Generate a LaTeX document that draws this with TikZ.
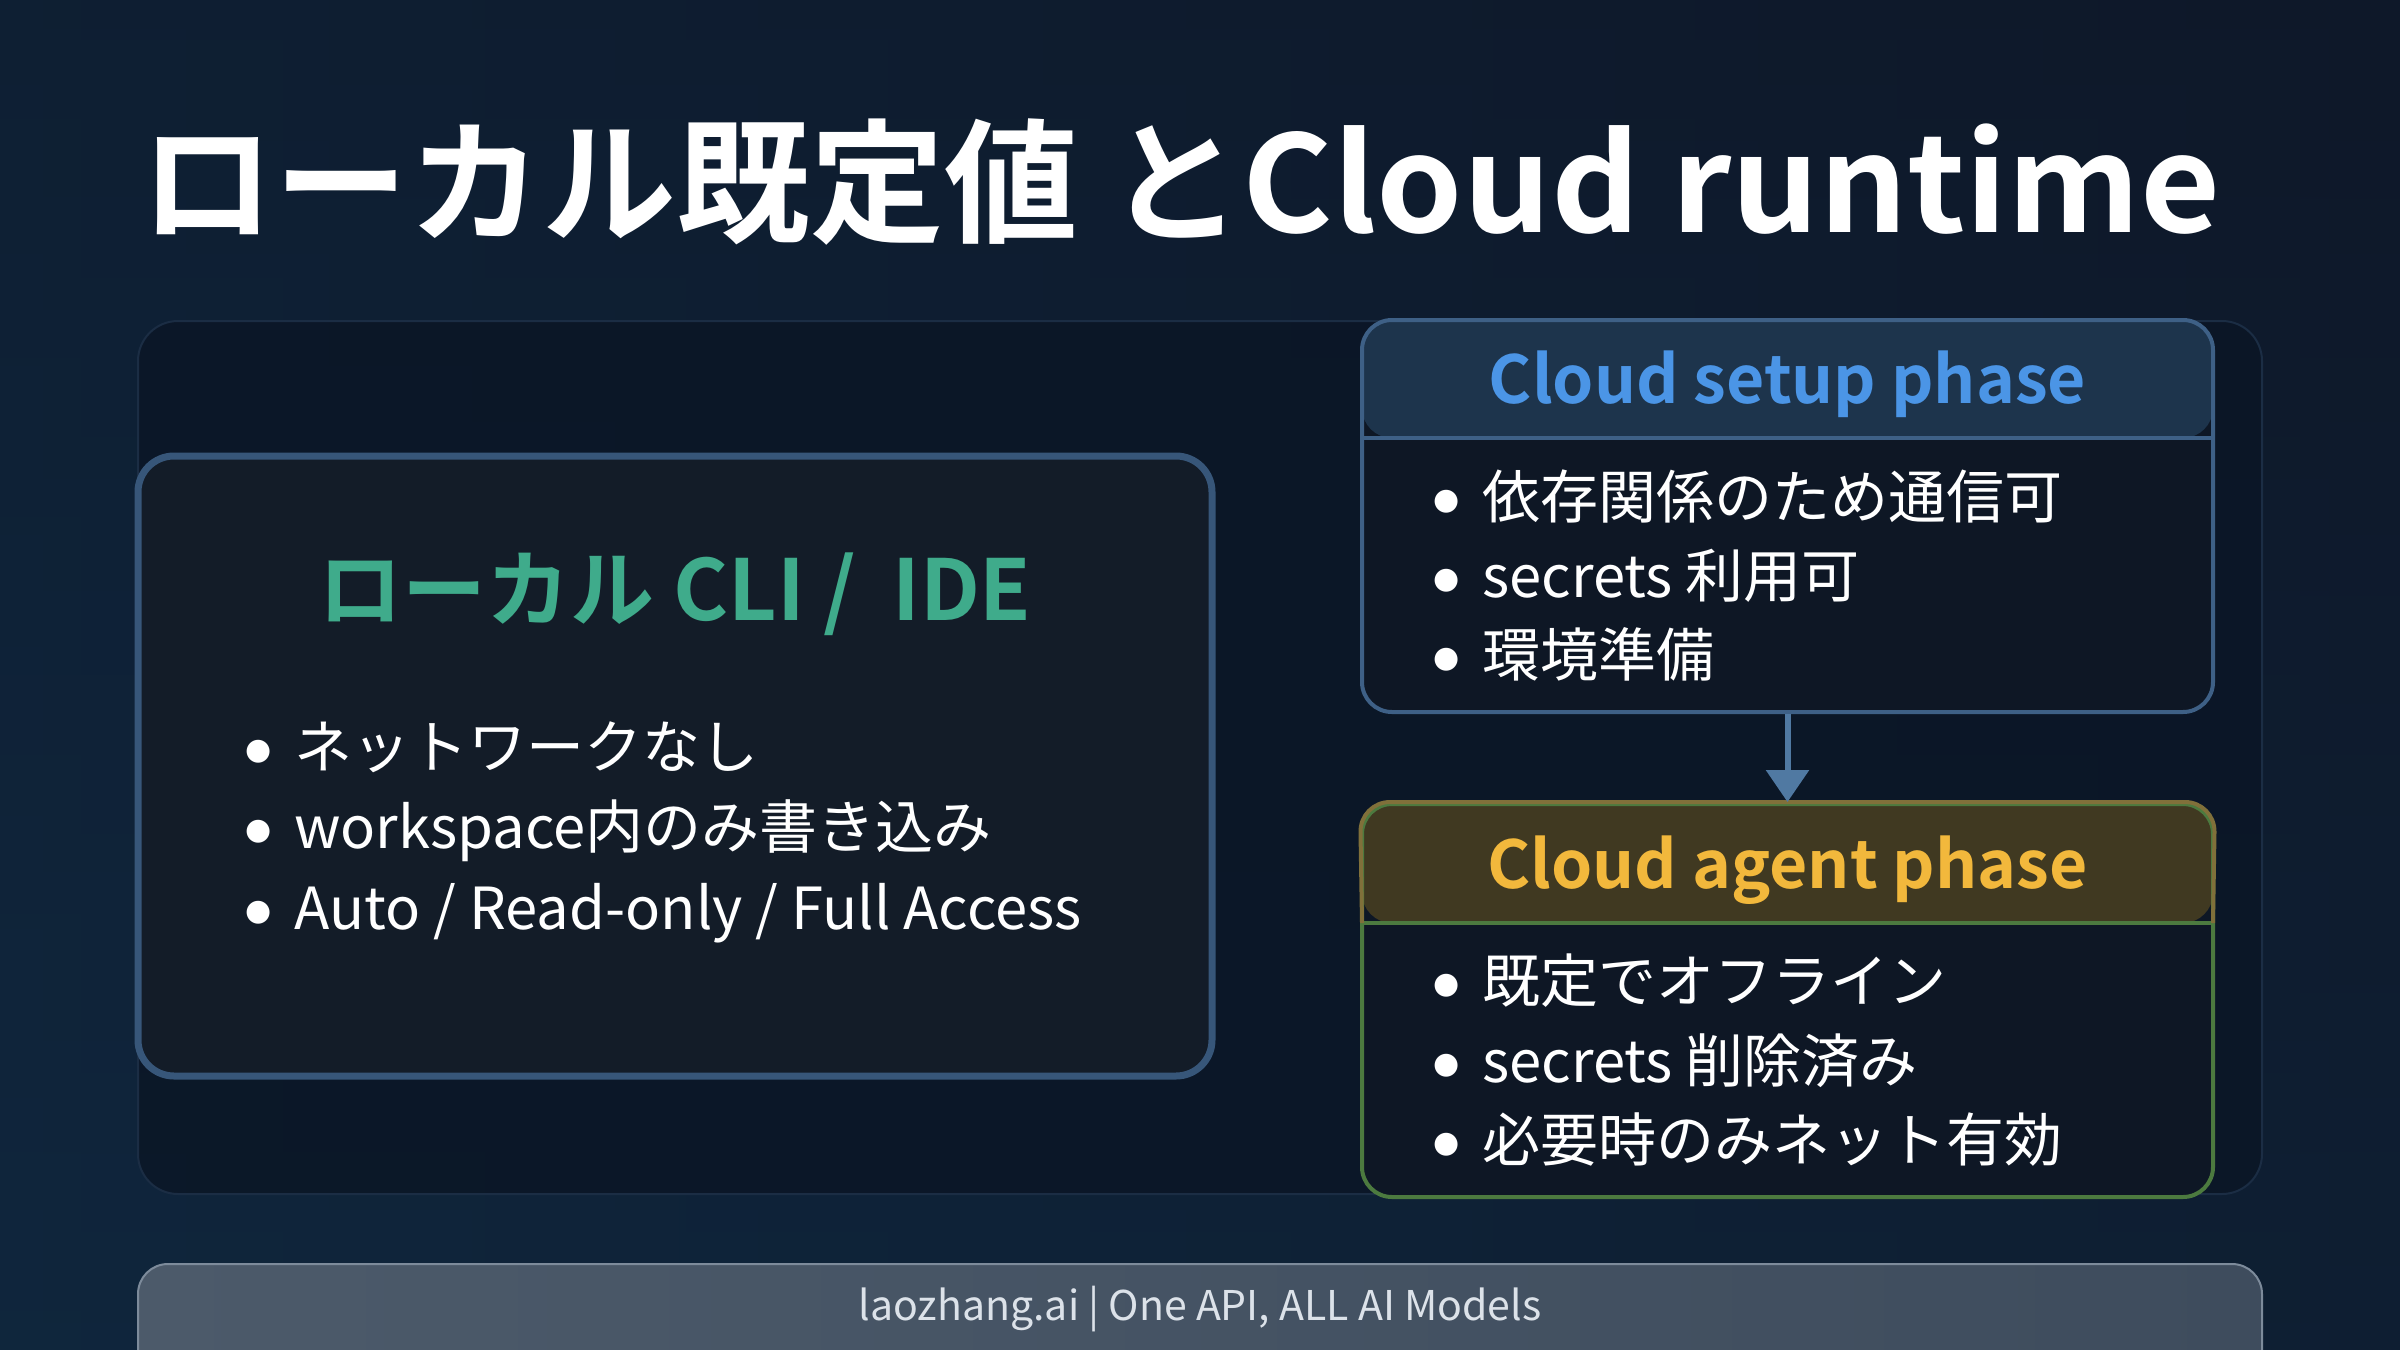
\documentclass[tikz,border=0pt]{standalone}
\usepackage{fontspec}
\setmainfont{Noto Sans CJK JP}[BoldFont={Noto Sans CJK JP Bold}]
\newfontfamily\dvs{DejaVu Sans}
\usetikzlibrary{calc,arrows.meta}
\definecolor{bgtop}{HTML}{0E1829}
\definecolor{bgbot}{HTML}{0F2941}
\definecolor{panelfill}{HTML}{0B1626}
\definecolor{panelline}{HTML}{1B2D44}
\definecolor{leftline}{HTML}{375679}
\definecolor{leftfill}{HTML}{131C28}
\definecolor{bodyfill}{HTML}{0E1725}
\definecolor{setupline}{HTML}{3E6086}
\definecolor{setuphdr}{HTML}{1D344C}
\definecolor{agenthdr}{HTML}{403921}
\definecolor{agentgold}{HTML}{80703A}
\definecolor{agentgreen}{HTML}{4C7A3F}
\definecolor{tealtxt}{HTML}{3FAB8B}
\definecolor{bluetxt}{HTML}{4B95E6}
\definecolor{goldtxt}{HTML}{F2B83C}
\definecolor{arrowc}{HTML}{5079A2}
\definecolor{footl}{HTML}{4C5A6A}
\definecolor{footr}{HTML}{3E4C5D}
\definecolor{footline}{HTML}{7D8B9B}
\definecolor{foottxt}{HTML}{DCE2E9}
\newcommand\bul{\makebox[24.5pt][l]{\raisebox{4.5pt}{\dvs\fontsize{15}{15}\selectfont ●}}}
\tikzset{
  bodytxt/.style={anchor=base west, inner sep=0pt, text=white, font=\fontsize{29}{36}\selectfont},
  phasebox/.style={draw, line width=2pt, rounded corners=15pt, fill=bodyfill, minimum width=425.5pt, inner sep=0pt},
  hdrtxt/.style={font=\bfseries\fontsize{33}{40}\selectfont, inner sep=0pt},
}
\begin{document}
\begin{tikzpicture}[x=0.5pt,y=-0.5pt]
\useasboundingbox (0,0) rectangle (2400,1350);
\shade[top color=bgtop, bottom color=bgbot] (0,0) rectangle (2400,1350);
\shade[left color=bgbot!70!bgtop, right color=bgtop, opacity=0.6] (0,0) rectangle (2400,1350);
% title
\node[anchor=base west, inner sep=0pt, text=white, font=\bfseries\fontsize{67}{80}\selectfont] (title) at (140,232) {ローカル既定値 と\scalebox{1.03}[1]{Cloud runtime}};
% outer panel
\node[draw=panelline, line width=1pt, fill=panelfill, fill opacity=0.85, rounded corners=20pt, minimum width=1062pt, minimum height=436.5pt, inner sep=0pt] (panel) at (1200,757.5) {};
% left box
\node[draw=leftline, line width=3.5pt, fill=leftfill, rounded corners=18pt, minimum width=537pt, minimum height=310pt, inner sep=0pt] (left) at (675,766) {};
\node[text=tealtxt, font=\bfseries\fontsize{42}{50}\selectfont, inner sep=0pt] (lefttitle) at (675,594) {ローカル CLI /\hspace{18pt}IDE};
\node[bodytxt] (l1) at (245,768) {\bul ネットワークなし};
\node[bodytxt] (l2) at (245,848) {\bul workspace内のみ書き込み};
\node[bodytxt] (l3) at (245,929) {\bul Auto / Read-only / Full Access};
% setup box
\node[phasebox, draw=setupline, minimum height=196pt,
  path picture={\fill[setuphdr] (path picture bounding box.north west) rectangle ($(path picture bounding box.north east)+(0,118)$);
    \draw[setupline, line width=2pt] ($(path picture bounding box.north west)+(0,118)$) -- ($(path picture bounding box.north east)+(0,118)$);}] (setup) at (1787.5,516) {};
\node[hdrtxt, text=bluetxt] (setuptitle) at (1787.5,384) {Cloud setup phase};
\node[bodytxt] (s1) at (1433,518) {\bul 依存関係のため通信可};
\node[bodytxt] (s2) at (1433,597) {\bul secrets 利用可};
\node[bodytxt] (s3) at (1433,676) {\bul 環境準備};
% agent box
\node[phasebox, draw=agentgreen, minimum height=196.5pt,
  path picture={\fill[agenthdr] (path picture bounding box.north west) rectangle ($(path picture bounding box.north east)+(0,119)$);
    \draw[agentgreen, line width=2pt] ($(path picture bounding box.north west)+(0,119)$) -- ($(path picture bounding box.north east)+(0,119)$);}] (agent) at (1787.5,1000.5) {};
\coordinate (agl) at (1362,923);
\coordinate (agr) at (2213,923);
\draw[agentgold, line width=2pt] (agl) {[rounded corners=15pt] -- (agent.north west) -- (agent.north east)} -- (agr);
\node[hdrtxt, text=goldtxt] (agenttitle) at (1787.5,870) {Cloud agent phase};
\node[bodytxt] (a1) at (1433,1002) {\bul 既定でオフライン};
\node[bodytxt] (a2) at (1433,1082) {\bul secrets 削除済み};
\node[bodytxt] (a3) at (1433,1161) {\bul 必要時のみネット有効};
% arrow
\draw[arrowc, line width=3pt, -{Triangle[width=21pt,length=16pt]}] (setup.south) -- (agent.north);
% footer
\shade[left color=footl, right color=footr, draw=footline, line width=1pt, rounded corners=15pt] (138,1264) rectangle (2262,1420);
\node[text=foottxt, font=\fontsize{20.5}{24}\selectfont, inner sep=0pt] (footer) at (1200,1309) {laozhang.ai | One API, ALL AI Models};
\end{tikzpicture}
\end{document}
